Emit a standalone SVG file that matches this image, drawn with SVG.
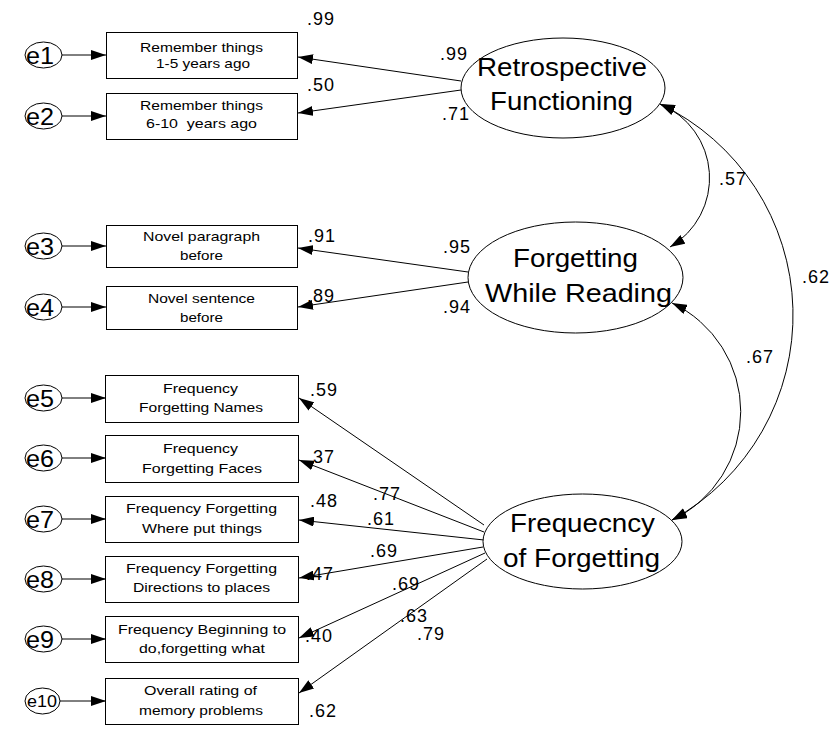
<svg xmlns="http://www.w3.org/2000/svg" width="833" height="738" viewBox="0 0 833 738">
  <defs>
    <style>
      .box { fill: #fff; stroke: #000; stroke-width: 1; }
      .lat { fill: #fff; stroke: #000; stroke-width: 1; }
      .err { fill: #fff; stroke: #000; stroke-width: 1; }
      .edge { fill: none; stroke: #000; stroke-width: 1; }
      .cov { fill: none; stroke: #000; stroke-width: 1; }
      text { font-family: "Liberation Sans", Arial, sans-serif; fill: #000; }
      .bt { font-size: 13px; }
      .lt { font-size: 25px; }
      .et { font-size: 24px; }
      .num { font-size: 18px; }
    </style>
    <marker id="arrow" viewBox="0 0 15 10" refX="15" refY="5" markerWidth="15" markerHeight="10" markerUnits="userSpaceOnUse" orient="auto">
      <path d="M0,0 L15,5 L0,10 z" fill="#000"/>
    </marker>
    <marker id="arrowStart" viewBox="0 0 15 10" refX="15" refY="5" markerWidth="15" markerHeight="10" markerUnits="userSpaceOnUse" orient="auto-start-reverse">
      <path d="M0,0 L15,5 L0,10 z" fill="#000"/>
    </marker>
  </defs>

  <rect width="833" height="738" fill="#fff"/>

  <!-- connectors: error terms, loadings, covariances -->
  <g id="connectors">
    <line class="edge" x1="62" y1="55" x2="106" y2="55" marker-end="url(#arrow)"/>
    <line class="edge" x1="62" y1="116" x2="106" y2="116" marker-end="url(#arrow)"/>
    <line class="edge" x1="62" y1="246" x2="106" y2="246" marker-end="url(#arrow)"/>
    <line class="edge" x1="62" y1="307" x2="106" y2="307" marker-end="url(#arrow)"/>
    <line class="edge" x1="62" y1="398" x2="106" y2="398" marker-end="url(#arrow)"/>
    <line class="edge" x1="62" y1="458" x2="106" y2="458" marker-end="url(#arrow)"/>
    <line class="edge" x1="62" y1="519" x2="106" y2="519" marker-end="url(#arrow)"/>
    <line class="edge" x1="62" y1="579" x2="106" y2="579" marker-end="url(#arrow)"/>
    <line class="edge" x1="62" y1="639" x2="106" y2="639" marker-end="url(#arrow)"/>
    <line class="edge" x1="60" y1="701" x2="106" y2="701" marker-end="url(#arrow)"/>

    <line class="edge" x1="461" y1="81" x2="298" y2="57" marker-end="url(#arrow)"/>
    <line class="edge" x1="461" y1="90" x2="298" y2="113" marker-end="url(#arrow)"/>
    <line class="edge" x1="468" y1="272" x2="298" y2="248" marker-end="url(#arrow)"/>
    <line class="edge" x1="468" y1="282" x2="298" y2="307" marker-end="url(#arrow)"/>
    <line class="edge" x1="484" y1="525" x2="299" y2="398" marker-end="url(#arrow)"/>
    <line class="edge" x1="484" y1="532" x2="299" y2="460" marker-end="url(#arrow)"/>
    <line class="edge" x1="484" y1="540" x2="299" y2="520" marker-end="url(#arrow)"/>
    <line class="edge" x1="483" y1="547" x2="299" y2="578" marker-end="url(#arrow)"/>
    <line class="edge" x1="485" y1="553" x2="299" y2="638" marker-end="url(#arrow)"/>
    <line class="edge" x1="487" y1="559" x2="299" y2="693" marker-end="url(#arrow)"/>

    <path class="cov" d="M660,104 A80,80 0 0 1 670,247" marker-start="url(#arrowStart)" marker-end="url(#arrow)"/>
    <path class="cov" d="M660,104 A234,234 0 0 1 672,520" marker-start="url(#arrowStart)" marker-end="url(#arrow)"/>
    <path class="cov" d="M672,303 A120,120 0 0 1 672,520" marker-start="url(#arrowStart)" marker-end="url(#arrow)"/>
  </g>

  <!-- error terms -->
  <g id="e1"><ellipse class="err" cx="43.5" cy="55" rx="18.5" ry="13"/><text class="et" x="26" y="64" textLength="28" lengthAdjust="spacingAndGlyphs">e1</text></g>
  <g id="e2"><ellipse class="err" cx="43.5" cy="116" rx="18.5" ry="13"/><text class="et" x="26" y="125" textLength="28" lengthAdjust="spacingAndGlyphs">e2</text></g>
  <g id="e3"><ellipse class="err" cx="43.5" cy="246" rx="18.5" ry="13"/><text class="et" x="26" y="255" textLength="28" lengthAdjust="spacingAndGlyphs">e3</text></g>
  <g id="e4"><ellipse class="err" cx="43.5" cy="307" rx="18.5" ry="13"/><text class="et" x="26" y="316" textLength="28" lengthAdjust="spacingAndGlyphs">e4</text></g>
  <g id="e5"><ellipse class="err" cx="43.5" cy="398" rx="18.5" ry="13"/><text class="et" x="26" y="407" textLength="28" lengthAdjust="spacingAndGlyphs">e5</text></g>
  <g id="e6"><ellipse class="err" cx="43.5" cy="458" rx="18.5" ry="13"/><text class="et" x="26" y="467" textLength="28" lengthAdjust="spacingAndGlyphs">e6</text></g>
  <g id="e7"><ellipse class="err" cx="43.5" cy="519" rx="18.5" ry="13"/><text class="et" x="26" y="528" textLength="28" lengthAdjust="spacingAndGlyphs">e7</text></g>
  <g id="e8"><ellipse class="err" cx="43.5" cy="579" rx="18.5" ry="13"/><text class="et" x="26" y="588" textLength="28" lengthAdjust="spacingAndGlyphs">e8</text></g>
  <g id="e9"><ellipse class="err" cx="43.5" cy="639" rx="18.5" ry="13"/><text class="et" x="26" y="648" textLength="28" lengthAdjust="spacingAndGlyphs">e9</text></g>
  <g id="e10"><ellipse class="err" cx="42.5" cy="701" rx="17.5" ry="13"/><text x="27" y="707" font-size="17" textLength="30" lengthAdjust="spacingAndGlyphs">e10</text></g>

  <!-- observed variables -->
  <g id="remember-1-5">
    <rect class="box" x="106.5" y="32.5" width="191" height="46"/>
    <text class="bt" x="140" y="52" textLength="123" lengthAdjust="spacingAndGlyphs">Remember things</text>
    <text class="bt" x="156" y="68" textLength="94" lengthAdjust="spacingAndGlyphs">1-5 years ago</text>
  </g>
  <g id="remember-6-10">
    <rect class="box" x="106.5" y="93.5" width="191" height="46"/>
    <text class="bt" x="140" y="110" textLength="123" lengthAdjust="spacingAndGlyphs">Remember things</text>
    <text class="bt" x="146" y="128" textLength="111" lengthAdjust="spacingAndGlyphs" xml:space="preserve">6-10  years ago</text>
  </g>
  <g id="novel-paragraph">
    <rect class="box" x="106.5" y="225.5" width="191" height="42"/>
    <text class="bt" x="143" y="241" textLength="117" lengthAdjust="spacingAndGlyphs">Novel paragraph</text>
    <text class="bt" x="180" y="260" textLength="43" lengthAdjust="spacingAndGlyphs">before</text>
  </g>
  <g id="novel-sentence">
    <rect class="box" x="106.5" y="286.5" width="191" height="43"/>
    <text class="bt" x="148" y="303" textLength="107" lengthAdjust="spacingAndGlyphs">Novel sentence</text>
    <text class="bt" x="180" y="322" textLength="43" lengthAdjust="spacingAndGlyphs">before</text>
  </g>
  <g id="forget-names">
    <rect class="box" x="105.5" y="375.5" width="193" height="47"/>
    <text class="bt" x="163" y="393" textLength="75" lengthAdjust="spacingAndGlyphs">Frequency</text>
    <text class="bt" x="139" y="412" textLength="124" lengthAdjust="spacingAndGlyphs">Forgetting Names</text>
  </g>
  <g id="forget-faces">
    <rect class="box" x="105.5" y="435.5" width="193" height="47"/>
    <text class="bt" x="163" y="453" textLength="75" lengthAdjust="spacingAndGlyphs">Frequency</text>
    <text class="bt" x="142" y="473" textLength="120" lengthAdjust="spacingAndGlyphs">Forgetting Faces</text>
  </g>
  <g id="forget-things">
    <rect class="box" x="105.5" y="496.5" width="193" height="46"/>
    <text class="bt" x="126" y="513" textLength="151" lengthAdjust="spacingAndGlyphs">Frequency Forgetting</text>
    <text class="bt" x="142" y="533" textLength="120" lengthAdjust="spacingAndGlyphs">Where put things</text>
  </g>
  <g id="forget-directions">
    <rect class="box" x="105.5" y="556.5" width="193" height="46"/>
    <text class="bt" x="126" y="573" textLength="151" lengthAdjust="spacingAndGlyphs">Frequency Forgetting</text>
    <text class="bt" x="133" y="592" textLength="137" lengthAdjust="spacingAndGlyphs">Directions to places</text>
  </g>
  <g id="forget-what">
    <rect class="box" x="105.5" y="616.5" width="193" height="46"/>
    <text class="bt" x="118" y="634" textLength="168" lengthAdjust="spacingAndGlyphs">Frequency Beginning to</text>
    <text class="bt" x="139" y="653" textLength="126" lengthAdjust="spacingAndGlyphs">do,forgetting what</text>
  </g>
  <g id="overall-rating">
    <rect class="box" x="105.5" y="678.5" width="193" height="46"/>
    <text class="bt" x="144" y="695" textLength="113" lengthAdjust="spacingAndGlyphs">Overall rating of</text>
    <text class="bt" x="139" y="715" textLength="124" lengthAdjust="spacingAndGlyphs">memory problems</text>
  </g>

  <!-- latent factors -->
  <g id="retrospective">
    <ellipse class="lat" cx="563" cy="88" rx="102" ry="50"/>
    <text class="lt" x="477" y="76" textLength="170" lengthAdjust="spacingAndGlyphs">Retrospective</text>
    <text class="lt" x="490" y="110" textLength="143" lengthAdjust="spacingAndGlyphs">Functioning</text>
  </g>
  <g id="reading">
    <ellipse class="lat" cx="575.5" cy="277.5" rx="107.5" ry="55.5"/>
    <text class="lt" x="513" y="267" textLength="125" lengthAdjust="spacingAndGlyphs">Forgetting</text>
    <text class="lt" x="485" y="302" textLength="187" lengthAdjust="spacingAndGlyphs">While Reading</text>
  </g>
  <g id="frequency">
    <ellipse class="lat" cx="582.5" cy="541.5" rx="99.5" ry="47.5"/>
    <text class="lt" x="510" y="532" textLength="145" lengthAdjust="spacingAndGlyphs">Frequecncy</text>
    <text class="lt" x="503" y="567" textLength="157" lengthAdjust="spacingAndGlyphs">of Forgetting</text>
  </g>

  <!-- coefficients -->
  <g id="estimates" class="num">
    <text class="num" x="307" y="25" textLength="27">.99</text>
    <text class="num" x="440" y="60" textLength="27">.99</text>
    <text class="num" x="307" y="91" textLength="27">.50</text>
    <text class="num" x="442" y="120" textLength="27">.71</text>
    <text class="num" x="308" y="242" textLength="27">.91</text>
    <text class="num" x="443" y="253" textLength="27">.95</text>
    <text class="num" x="307" y="302" textLength="27">.89</text>
    <text class="num" x="443" y="313" textLength="27">.94</text>
    <text class="num" x="719" y="185" textLength="27">.57</text>
    <text class="num" x="802" y="283" textLength="27">.62</text>
    <text class="num" x="746" y="363" textLength="27">.67</text>
    <text class="num" x="310" y="396" textLength="27">.59</text>
    <text class="num" x="307" y="463" textLength="27">.37</text>
    <text class="num" x="373" y="500" textLength="27">.77</text>
    <text class="num" x="310" y="507" textLength="27">.48</text>
    <text class="num" x="367" y="525" textLength="27">.61</text>
    <text class="num" x="370" y="557" textLength="27">.69</text>
    <text class="num" x="306" y="580" textLength="27">.47</text>
    <text class="num" x="392" y="590" textLength="27">.69</text>
    <text class="num" x="400" y="622" textLength="27">.63</text>
    <text class="num" x="417" y="640" textLength="27">.79</text>
    <text class="num" x="305" y="642" textLength="27">.40</text>
    <text class="num" x="309" y="717" textLength="27">.62</text>
  </g>
</svg>
